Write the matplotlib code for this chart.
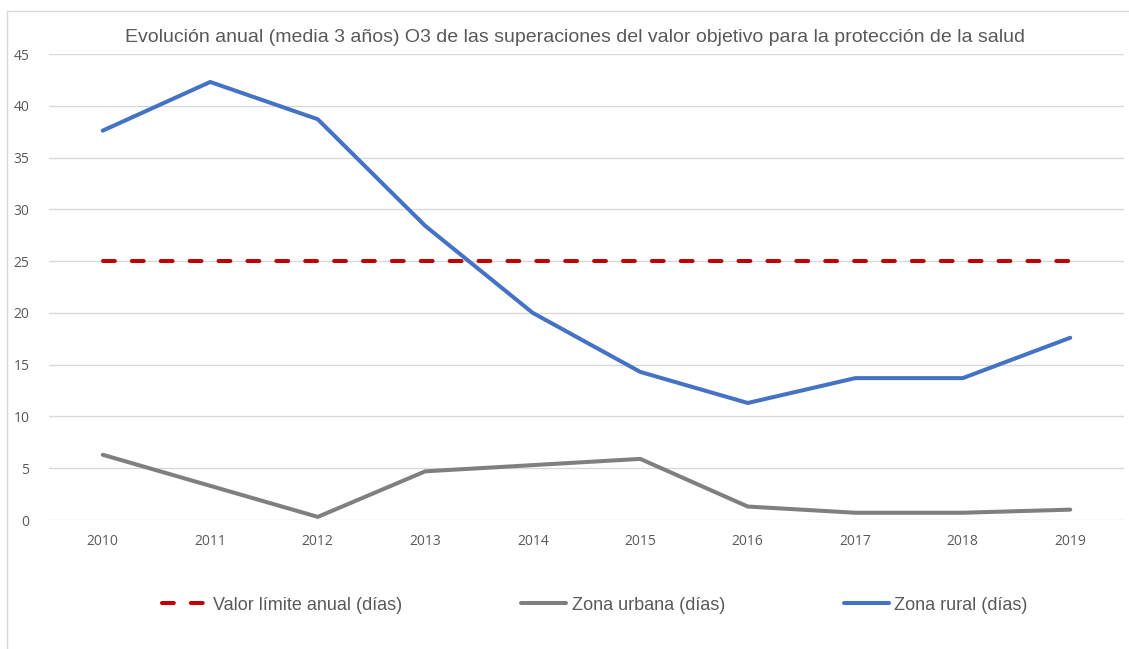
import matplotlib
matplotlib.use("Agg")
import matplotlib.pyplot as plt
from matplotlib.lines import Line2D

plt.rcParams["lines.scale_dashes"] = False

years = ["2010", "2011", "2012", "2013", "2014", "2015", "2016", "2017", "2018", "2019"]
limite = [25, 25, 25, 25, 25, 25, 25, 25, 25, 25]
urbana = [6.3, 3.3, 0.3, 4.7, 5.3, 5.9, 1.3, 0.7, 0.7, 1.0]
rural = [37.6, 42.3, 38.7, 28.4, 20.0, 14.3, 11.3, 13.7, 13.7, 17.6]

W, H = 1129, 649
fig = plt.figure(figsize=(W / 100, H / 100), dpi=100)
ax = fig.add_axes([49 / W, 1 - 520 / H, (1124 - 49) / W, (520 - 54) / H])

x = list(range(len(years)))
lw = 2.9
ax.plot(x, limite, color="#C00000", lw=lw, dashes=(8.5, 12.3), dash_capstyle="round",
        label="Valor límite anual (días)")
ax.plot(x, urbana, color="#7F7F7F", lw=lw, label="Zona urbana (días)", solid_capstyle="round")
ax.plot(x, rural, color="#4472C4", lw=lw, label="Zona rural (días)", solid_capstyle="round")

ax.set_xlim(-0.5, len(years) - 0.5)
ax.set_ylim(0, 45)
ax.set_yticks(range(0, 46, 5))
ax.set_xticks(x)
ax.set_xticklabels(years)
for s in ax.spines.values():
    s.set_visible(False)
ax.grid(axis="y", color="#D9D9D9", lw=1)
ax.set_axisbelow(True)
ax.tick_params(axis="both", length=0, labelsize=10, labelcolor="#595959")
ax.tick_params(axis="y", pad=14)
ax.tick_params(axis="x", pad=10)
for lab in ax.get_xticklabels() + ax.get_yticklabels():
    lab.set_family(["Open Sans", "DejaVu Sans"])

fig.text(575 / W, 1 - 38 / H, "Evolución anual (media 3 años) O3 de las superaciones del valor objetivo para la protección de la salud",
         ha="center", va="center", fontsize=14, color="#595959", family=["Liberation Sans", "DejaVu Sans"])

leg = fig.legend(loc="center", bbox_to_anchor=(595 / W, 1 - 605 / H), ncol=3, frameon=False,
                 prop={"family": ["Liberation Sans", "DejaVu Sans"], "size": 13},
                 handlelength=2.5, handletextpad=0.3, columnspacing=6.6)
for t in leg.get_texts():
    t.set_color("#595959")

# outer border (top and left)
fig.add_artist(Line2D([7 / W, 7 / W], [0, 1 - 11 / H], transform=fig.transFigure, color="#D9D9D9", lw=1))
fig.add_artist(Line2D([7 / W, 1], [1 - 11 / H, 1 - 11 / H], transform=fig.transFigure, color="#D9D9D9", lw=1))

fig.savefig("out.png", dpi=100)
